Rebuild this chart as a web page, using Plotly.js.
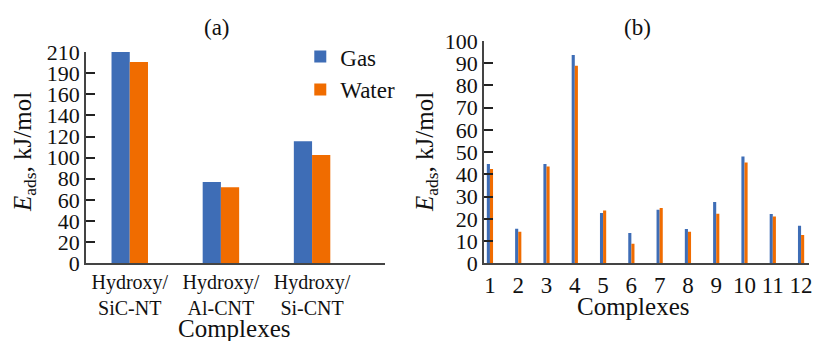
<!DOCTYPE html>
<html>
<head>
<meta charset="utf-8">
<script src="https://cdn.plot.ly/plotly-3.0.1.min.js"></script>
<style>html,body{margin:0;padding:0;background:#fff;}#chart{width:816px;height:341px;}</style>
</head>
<body>
<div id="chart"></div>
<script>
// Panel (a)
const categoriesA = ['Hydroxy/<br>SiC-NT', 'Hydroxy/<br>Al-CNT', 'Hydroxy/<br>Si-CNT'];
const gasA = [200, 77, 115.5];
const waterA = [190.5, 72, 102.5];
const yTickValsA = [0, 20, 40, 60, 80, 100, 120, 140, 160, 180, 200];
const yTickTextA = ['0', '20', '40', '60', '80', '100', '120', '140', '160', '190', '210'];

// Panel (b)
const categoriesB = [1, 2, 3, 4, 5, 6, 7, 8, 9, 10, 11, 12];
const gasB = [44.7, 15.5, 44.7, 93.7, 22.6, 13.6, 24.1, 15.4, 27.6, 48.0, 22.2, 16.9];
const waterB = [42.4, 14.2, 43.5, 88.9, 23.7, 8.8, 24.9, 14.2, 22.3, 45.3, 21.0, 12.7];
const yTickValsB = [0, 10, 20, 30, 40, 50, 60, 70, 80, 90, 100];

const seriesNames = ['Gas', 'Water'];
const BLUE = '#3E6DB6';
const ORANGE = '#F06C00';
const FONT = 'Liberation Serif';

const traces = [
  {type: 'bar', name: seriesNames[0], x: [0, 1, 2], y: gasA, xaxis: 'x', yaxis: 'y',
   width: 0.2, offset: -0.2, marker: {color: BLUE}, showlegend: true},
  {type: 'bar', name: seriesNames[1], x: [0, 1, 2], y: waterA, xaxis: 'x', yaxis: 'y',
   width: 0.2, offset: 0, marker: {color: ORANGE}, showlegend: true},
  {type: 'bar', name: seriesNames[0], x: categoriesB, y: gasB, xaxis: 'x2', yaxis: 'y2',
   width: 0.11, offset: -0.11, marker: {color: BLUE}, showlegend: false},
  {type: 'bar', name: seriesNames[1], x: categoriesB, y: waterB, xaxis: 'x2', yaxis: 'y2',
   width: 0.11, offset: 0, marker: {color: ORANGE}, showlegend: false}
];

function axisBase(size) {
  return {
    showgrid: false, zeroline: false, showline: true, linecolor: '#444', linewidth: 1.5,
    tickfont: {family: FONT, size: size, color: '#111'}
  };
}

const layout = {
  width: 816, height: 341,
  margin: {l: 0, r: 0, t: 0, b: 0},
  paper_bgcolor: '#fff', plot_bgcolor: '#fff',
  barmode: 'group',
  font: {family: FONT, color: '#111'},
  showlegend: true,
  legend: {x: 0.368, y: 0.897, xanchor: 'left', yanchor: 'top',
           font: {family: FONT, size: 23, color: '#111'}, bgcolor: 'rgba(0,0,0,0)',
           itemwidth: 30, tracegroupgap: 0},
  xaxis: Object.assign(axisBase(20), {
    domain: [86/816, 385/816], range: [-0.48, 2.8], tickmode: 'array',
    tickvals: [0, 1, 2], ticktext: categoriesA, ticks: '', anchor: 'y'
  }),
  yaxis: Object.assign(axisBase(22), {
    domain: [(341-263.3)/341, (341-52)/341], range: [0, 200], tickmode: 'array',
    tickvals: yTickValsA, ticktext: yTickTextA, ticks: 'inside', ticklen: 9,
    tickcolor: '#222', tickwidth: 1.5, anchor: 'x'
  }),
  xaxis2: Object.assign(axisBase(23), {
    domain: [484/816, 809/816], range: [0.79, 12.28], tickmode: 'array',
    tickvals: categoriesB, ticktext: categoriesB.map(String), ticks: '', anchor: 'y2'
  }),
  yaxis2: Object.assign(axisBase(22), {
    domain: [(341-263.3)/341, (341-41)/341], range: [0, 100], tickmode: 'array',
    tickvals: yTickValsB, ticks: 'inside', ticklen: 9,
    tickcolor: '#222', tickwidth: 1.5, anchor: 'x2'
  }),
  annotations: [
    {text: '(a)', x: 217, y: 27},
    {text: '(b)', x: 637, y: 27},
    {text: 'Complexes', x: 235, y: 328},
    {text: 'Complexes', x: 633, y: 306},
    {text: '<i>E</i><sub>ads</sub>, kJ/mol', x: 24, y: 152, textangle: -90},
    {text: '<i>E</i><sub>ads</sub>, kJ/mol', x: 426, y: 152, textangle: -90}
  ].map(a => ({
    text: a.text, textangle: a.textangle || 0,
    xref: 'paper', yref: 'paper', x: a.x / 816, y: 1 - a.y / 341,
    xanchor: 'center', yanchor: 'middle', showarrow: false,
    font: {family: FONT, size: a.text.startsWith('(') ? 23 : 25, color: '#111'}
  }))
};

Plotly.newPlot('chart', traces, layout, {displayModeBar: false});
</script>
</body>
</html>
